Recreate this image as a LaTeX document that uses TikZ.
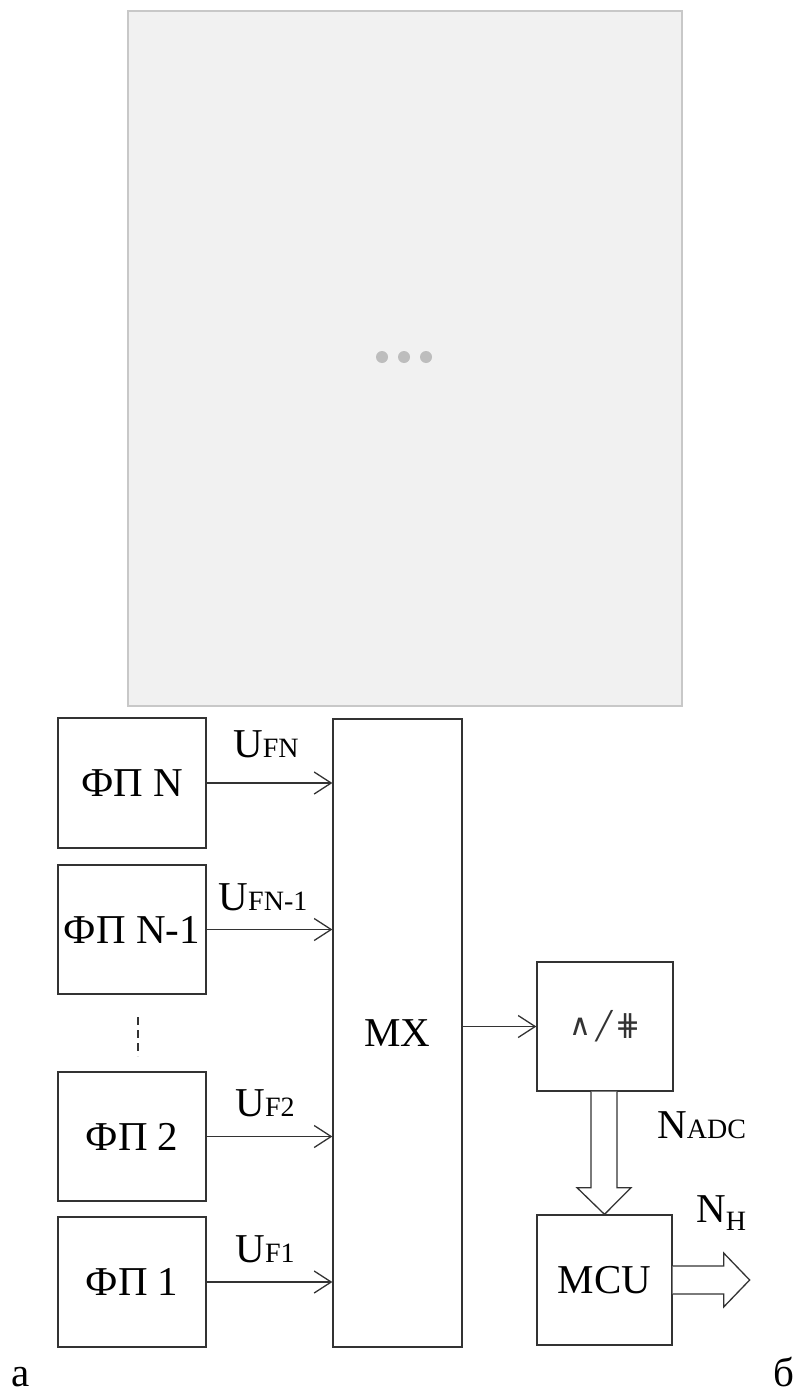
\documentclass[tikz,border=0pt]{standalone}
\usepackage{fontspec}
\setmainfont{Liberation Serif}
\newfontfamily\symfont{DejaVu Sans}
\usetikzlibrary{arrows.meta,calc}
\definecolor{phfill}{HTML}{F1F1F1}
\definecolor{phline}{HTML}{C8C8C8}
\definecolor{phdot}{HTML}{BDBDBD}
\definecolor{ln}{HTML}{333333}
\newcommand{\bigf}{\fontsize{41}{41}\selectfont}
\newcommand{\smf}{\fontsize{28}{28}\selectfont}
\begin{document}
\begin{tikzpicture}[x=1pt,y=-1pt,
  blk/.style={draw=ln,line width=1.3pt,minimum width=148pt,minimum height=130pt,inner sep=0pt,font=\bigf,text=black},
  sig/.style={draw=ln,line width=1.3pt,-{Straight Barb[length=17pt,width=22pt,line width=1.3pt]}},
  hollow/.style={draw=ln,line width=1.3pt,fill=white,line join=miter},
  lbl/.style={anchor=base,inner sep=0pt,font=\bigf},
  dot/.style={circle,fill=phdot,minimum size=12pt,inner sep=0pt}]
\useasboundingbox (0,0) rectangle (798,1394);
% placeholder
\node[draw=phline,fill=phfill,line width=2pt,minimum width=554pt,minimum height=695pt,inner sep=0pt] (ph) at (404.5,358.5) {};
\node[dot] (d1) at (382,357) {};
\node[dot] (d2) at (404,357) {};
\node[dot] (d3) at (426,357) {};
% blocks
\node[blk] (fpN) at (132,783) {ФП N};
\node[blk,minimum height=129pt] (fpN1) at (132,929.5) {ФП N-1};
\node[blk,minimum height=129pt] (fp2) at (132,1136.5) {ФП 2};
\node[blk] (fp1) at (132,1282) {ФП 1};
\node[blk,minimum width=129pt,minimum height=628pt] (mx) at (397.5,1033) {MX};
\node[blk,minimum width=136pt,minimum height=129pt,font=\symfont\fontsize{30}{30}\selectfont,text=ln] (adc) at (605,1026.5) {∧\hspace{4pt}{\fontsize{27}{27}\selectfont╱}\hspace{3pt}⋕};
\node[blk,minimum width=135pt] (mcu) at (604.5,1280) {MCU};
% signals
\draw[sig] (fpN.east) -- (fpN.east -| mx.west);
\draw[sig] (fpN1.east) -- (fpN1.east -| mx.west);
\draw[sig] (fp2.east) -- (fp2.east -| mx.west);
\draw[sig] (fp1.east) -- (fp1.east -| mx.west);
\draw[sig] (adc.west -| mx.east) -- (adc.west);
\node[lbl] (lN) at (266,757) {U{\smf FN}};
\node[lbl] (lN1) at (263,910) {U{\smf FN-1}};
\node[lbl] (l2) at (265,1116) {U{\smf F2}};
\node[lbl] (l1) at (265,1262) {U{\smf F1}};
% dashed
\coordinate (dA) at (138,1017);
\coordinate (dB) at (138,1056);
\draw[ln,line width=1.2pt,dash pattern=on 8pt off 5pt] (dA) -- (dB);
% bus ADC -> MCU
\draw[hollow] ($(adc.south)+(-14,0)$) -- ($(adc.south)+(-14,96)$) -- ($(adc.south)+(-28,96)$)
  -- (mcu.north) -- ($(adc.south)+(26,96)$) -- ($(adc.south)+(12,96)$) -- ($(adc.south)+(12,0)$);
% bus MCU out
\draw[hollow] ($(mcu.east)+(0,-14)$) -- ($(mcu.east)+(51,-14)$) -- ($(mcu.east)+(51,-27)$)
  -- ($(mcu.east)+(77,0)$) -- ($(mcu.east)+(51,27)$) -- ($(mcu.east)+(51,14)$) -- ($(mcu.east)+(0,14)$);
\node[lbl,anchor=base west] (nadc) at (657,1138) {N{\smf ADC}};
\node[lbl,anchor=base west] (nh) at (696,1222) {N\raisebox{-8pt}{\smf H}};
% captions
\node[lbl] (ca) at (21,1386) {а};
\node[lbl] (cb) at (784,1386) {б};
\end{tikzpicture}
\end{document}
